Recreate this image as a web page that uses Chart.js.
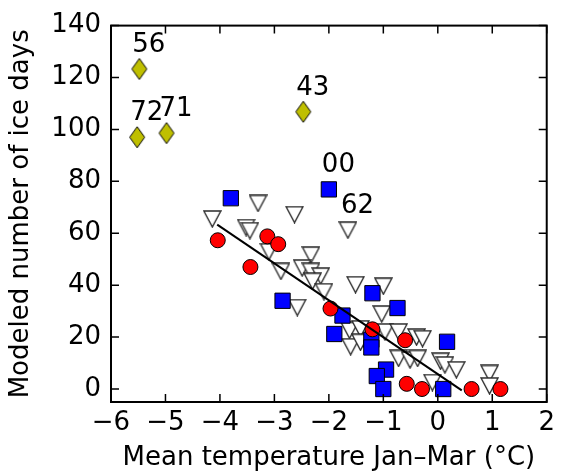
<!DOCTYPE html>
<html>
<head>
<meta charset="utf-8">
<script src="https://cdn.jsdelivr.net/npm/chart.js@4"></script>
<style>
  html, body { margin: 0; padding: 0; background: #ffffff; }
  #wrap { width: 561px; height: 475px; }
</style>
</head>
<body>
<div id="wrap"><canvas id="iceChart" width="561" height="475"></canvas></div>
<script>
// Axis ticks
const xTicks = [-6, -5, -4, -3, -2, -1, 0, 1, 2];
const yTicks = [0, 20, 40, 60, 80, 100, 120, 140];

// Red circles
const circleX = [-4.04, -3.44, -3.13, -2.93, -1.97, -1.20, -0.60, -0.57, -0.29, 0.62, 1.15];
const circleY = [57.3, 47.0, 58.8, 55.8, 31.0, 23.0, 18.8, 2.0, 0.0, 0.0, 0.0];

// Blue squares
const squareX = [-3.80, -2.00, -2.85, -1.20, -0.74, -1.75, -1.90, -1.22, -1.22, 0.17, -0.95, -1.12, -1.00, 0.10];
const squareY = [73.5, 76.9, 34.0, 36.9, 31.2, 28.3, 21.2, 19.0, 16.0, 18.2, 7.5, 5.0, 0.0, 0.0];

// Open triangles
const triX = [-4.14, -3.30, -2.63, -3.52, -3.45, -3.10, -2.88, -2.33, -2.49, -2.33, -2.15, -2.30, -2.09, -2.58,
              -1.65, -1.51, -1.00, -1.03, -1.62, -1.42, -1.60, -1.42, -0.97, -0.72, -0.39, -0.28,
              -0.72, -0.51, -0.37, 0.05, 0.13, 0.34, 0.95, 0.95, -0.10];
const triY = [65.5, 71.5, 67.2, 62.2, 61.0, 52.9, 45.3, 51.6, 46.6, 45.3, 43.5, 41.5, 37.5, 31.4,
              61.2, 40.2, 39.6, 28.9, 22.6, 23.2, 16.3, 18.0, 22.0, 22.0, 20.0, 19.4,
              11.8, 11.2, 11.8, 10.7, 9.3, 7.4, 6.0, 1.2, 2.5];

// Yellow diamonds
const diamondX = [-5.48, -5.52, -4.98, -2.47];
const diamondY = [123.3, 97.0, 98.6, 106.8];

// Fitted line
const fitX = [-4.05, 0.44];
const fitY = [63.3, -0.5];

// Year labels
const noteText = ['56', '72', '71', '43', '00', '62'];
const noteX = [-5.48, -5.52, -4.98, -2.47, -2.00, -1.65];
const noteY = [123.3, 97.0, 98.6, 106.8, 76.9, 61.2];

const FONT = 'DejaVu Sans';
const FONT_SIZE = 26;

function pairs(xs, ys) {
    return xs.map((x, i) => ({ x: x, y: ys[i] }));
}

function markerCanvas(w, h, drawPath, fill, stroke, lw) {
    const c = document.createElement('canvas');
    c.width = w;
    c.height = h;
    const g = c.getContext('2d');
    g.beginPath();
    drawPath(g, w, h);
    g.closePath();
    g.fillStyle = fill;
    g.fill();
    g.lineWidth = lw;
    g.strokeStyle = stroke;
    g.stroke();
    return c;
}

const diamondImg = markerCanvas(18, 23, (g, w, h) => {
    g.moveTo(w / 2, 1);
    g.lineTo(w - 1.5, h / 2);
    g.lineTo(w / 2, h - 1);
    g.lineTo(1.5, h / 2);
}, '#bfbf00', '#000000', 1);

const triImg = markerCanvas(19, 18, (g, w, h) => {
    g.moveTo(1, 1);
    g.lineTo(w - 1, 1);
    g.lineTo(w / 2, h - 1);
}, '#ffffff', '#2a2a2a', 1.4);

// Frame, inward ticks on all sides, year labels
const framePlugin = {
    id: 'frame',
    afterDatasetsDraw(chart) {
        const { ctx, chartArea: a, scales } = chart;
        ctx.save();
        ctx.strokeStyle = '#000000';
        ctx.lineWidth = 1.5;
        ctx.beginPath();
        xTicks.forEach(v => {
            const px = scales.x.getPixelForValue(v);
            ctx.moveTo(px, a.bottom);
            ctx.lineTo(px, a.bottom - 8);
            ctx.moveTo(px, a.top);
            ctx.lineTo(px, a.top + 8);
        });
        yTicks.forEach(v => {
            const py = scales.y.getPixelForValue(v);
            ctx.moveTo(a.left, py);
            ctx.lineTo(a.left + 8, py);
            ctx.moveTo(a.right, py);
            ctx.lineTo(a.right - 8, py);
        });
        ctx.stroke();
        ctx.lineWidth = 2;
        ctx.strokeRect(a.left, a.top, a.right - a.left, a.bottom - a.top);

        ctx.fillStyle = '#000000';
        ctx.font = FONT_SIZE + 'px "' + FONT + '"';
        ctx.textAlign = 'left';
        ctx.textBaseline = 'alphabetic';
        noteText.forEach((t, i) => {
            const px = scales.x.getPixelForValue(noteX[i]);
            const py = scales.y.getPixelForValue(noteY[i]);
            ctx.fillText(t, px - 7, py - 17);
        });
        ctx.restore();
    }
};

const minus = v => String(v).replace('-', '\u2212');

new Chart(document.getElementById('iceChart'), {
    type: 'scatter',
    data: {
        datasets: [
            {
                type: 'line',
                data: pairs(fitX, fitY),
                borderColor: '#000000',
                borderWidth: 2,
                pointRadius: 0,
                fill: false,
                order: 0
            },
            {
                data: pairs(circleX, circleY),
                pointStyle: 'circle',
                pointRadius: 7.5,
                backgroundColor: '#ff0000',
                borderColor: '#000000',
                borderWidth: 1,
                order: 1
            },
            {
                data: pairs(squareX, squareY),
                pointStyle: 'rect',
                pointRadius: 10.8,
                backgroundColor: '#0000ff',
                borderColor: '#000000',
                borderWidth: 1,
                order: 2
            },
            {
                data: pairs(triX, triY),
                pointStyle: triImg,
                pointRadius: 9,
                order: 3
            },
            {
                data: pairs(diamondX, diamondY),
                pointStyle: diamondImg,
                pointRadius: 11,
                order: 4
            }
        ]
    },
    options: {
        responsive: false,
        animation: false,
        layout: {
            padding: { left: 0, right: 12, top: 17, bottom: 0 }
        },
        plugins: {
            legend: { display: false },
            tooltip: { enabled: false }
        },
        scales: {
            x: {
                type: 'linear',
                min: -6,
                max: 2,
                grid: { display: false, drawTicks: false, tickLength: 0 },
                border: { display: false },
                afterBuildTicks: s => { s.ticks = xTicks.map(v => ({ value: v })); },
                afterFit: s => { s.height = 73; },
                ticks: {
                    color: '#000000',
                    padding: 6,
                    maxRotation: 0,
                    autoSkip: false,
                    font: { family: FONT, size: FONT_SIZE },
                    callback: v => minus(v)
                },
                title: {
                    display: true,
                    text: 'Mean temperature Jan\u2013Mar (\u00b0C)',
                    color: '#000000',
                    font: { family: FONT, size: FONT_SIZE },
                    padding: { top: 0, bottom: 1 }
                }
            },
            y: {
                type: 'linear',
                min: -5,
                max: 140,
                grid: { display: false, drawTicks: false, tickLength: 0 },
                border: { display: false },
                afterBuildTicks: s => { s.ticks = yTicks.map(v => ({ value: v })); },
                afterFit: s => { s.width = 111; },
                ticks: {
                    color: '#000000',
                    padding: 10,
                    autoSkip: false,
                    font: { family: FONT, size: FONT_SIZE },
                    callback: v => minus(v)
                },
                title: {
                    display: true,
                    text: 'Modeled number of ice days',
                    color: '#000000',
                    font: { family: FONT, size: FONT_SIZE },
                    padding: { top: 6, bottom: 0 }
                }
            }
        }
    },
    plugins: [framePlugin]
});
</script>
</body>
</html>
